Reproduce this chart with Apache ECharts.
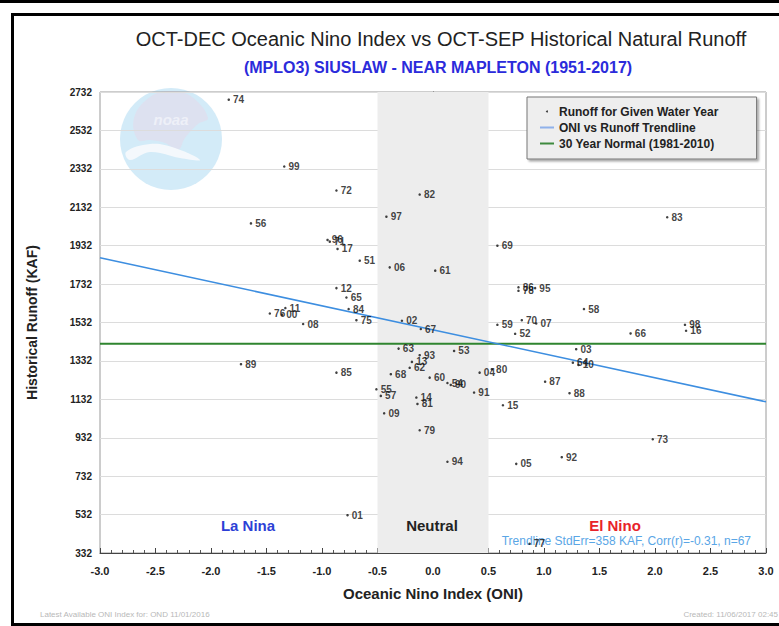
<!DOCTYPE html>
<html>
<head>
<meta charset="utf-8">
<script src="https://cdn.jsdelivr.net/npm/echarts@6/dist/echarts.min.js"></script>
<style>
  html, body { margin: 0; padding: 0; background: #ffffff; }
  #chart { width: 779px; height: 626px; }
</style>
</head>
<body>
<div id="chart"></div>
<script>
// Water years (two-digit labels) 1951-2017
const years = ['51','52','53','54','55','56','57','58','59','60',
  '61','62','63','64','65','66','67','68','69','70',
  '71','72','73','74','75','76','77','78','79','80',
  '81','82','83','84','85','86','87','88','89','90',
  '91','92','93','94','95','96','97','98','99','00',
  '01','02','03','04','05','06','07','08','09','10',
  '11','12','13','14','15','16','17'];

// OCT-DEC Oceanic Nino Index for each water year
const oni = [-0.66, 0.74, 0.19, 0.13, -0.51, -1.64, -0.47, 1.36, 0.58, -0.03,
  0.02, -0.21, -0.31, 1.26, -0.78, 1.78, -0.11, -0.38, 0.58, 0.80,
  -0.93, -0.87, 1.98, -1.84, -0.69, -1.47, 0.87, 0.77, -0.12, 0.53,
  -0.14, -0.12, 2.11, -0.76, -0.87, 0.77, 1.01, 1.23, -1.73, 0.16,
  0.37, 1.16, -0.12, 0.13, 0.92, -0.95, -0.42, 2.27, -1.34, -1.36,
  -0.77, -0.28, 1.29, 0.42, 0.75, -0.39, 0.93, -1.17, -0.44, 1.31,
  -1.33, -0.87, -0.19, -0.15, 0.63, 2.28, -0.86];

// OCT-SEP historical natural runoff (KAF)
const runoff = [1854, 1473, 1384, 1217, 1184, 2048, 1150, 1602, 1520, 1245,
  1802, 1296, 1396, 1323, 1662, 1475, 1498, 1263, 1932, 1544,
  1953, 2219, 924, 2692, 1544, 1579, 380, 1697, 971, 1289,
  1108, 2198, 2080, 1602, 1271, 1715, 1224, 1164, 1315, 1207,
  1167, 831, 1362, 807, 1711, 1962, 2083, 1520, 2344, 1572,
  529, 1541, 1393, 1271, 796, 1819, 1527, 1524, 1059, 1311,
  1607, 1711, 1327, 1141, 1101, 1489, 1915];

// Trendline end points and the 30-year normal
const trendOni = [-3.0, 3.0];
const trendRunoff = [1869, 1119];
const normalRunoff = 1422;

// Axis ranges and tick labels
const xTicks = ['-3.0','-2.5','-2.0','-1.5','-1.0','-0.5','0.0','0.5','1.0','1.5','2.0','2.5','3.0'];
const yTickStart = 332, yTickEnd = 2732, yTickStep = 200;
const neutralBand = [-0.5, 0.5];

const SANS = '"Liberation Sans", Arial, sans-serif';

const points = oni.map((v, i) => [v, runoff[i]]);
const chart = echarts.init(document.getElementById('chart'), null, { renderer: 'svg' });

chart.setOption({
  animation: false,
  backgroundColor: '#ffffff',
  title: [
    {
      text: 'OCT-DEC Oceanic Nino Index vs OCT-SEP Historical Natural Runoff',
      left: 436, top: 24, textAlign: 'center',
      textStyle: { fontFamily: SANS, fontSize: 20, fontWeight: 'normal', color: '#222' }
    },
    {
      text: '(MPLO3) SIUSLAW - NEAR MAPLETON (1951-2017)',
      left: 433, top: 54, textAlign: 'center',
      textStyle: { fontFamily: SANS, fontSize: 16, fontWeight: 'bold', color: '#2b2bdb' }
    }
  ],
  grid: {
    left: 100, right: 13, top: 92, bottom: 73,
    show: true, borderColor: '#9a9a9a', borderWidth: 1, backgroundColor: 'transparent'
  },
  legend: {
    orient: 'vertical', left: 527, top: 97,
    backgroundColor: '#eeeeee', borderColor: '#777', borderWidth: 1,
    shadowColor: 'rgba(0,0,0,0.35)', shadowOffsetX: 2, shadowOffsetY: 2, shadowBlur: 2,
    padding: [8, 38, 9, 13], itemGap: 3, itemWidth: 14, itemHeight: 2,
    textStyle: { fontFamily: SANS, fontSize: 12, fontWeight: 'bold', color: '#222', lineHeight: 13 },
    data: [
      { name: 'Runoff for Given Water Year', icon: 'circle', itemStyle: { color: '#111' } },
      { name: 'ONI vs Runoff Trendline', icon: 'rect', itemStyle: { color: '#8fb1ea' } },
      { name: '30 Year Normal (1981-2010)', icon: 'rect', itemStyle: { color: '#3e8a3e' } }
    ]
  },
  xAxis: {
    type: 'value', min: -3, max: 3, interval: 0.5,
    name: 'Oceanic Nino Index (ONI)', nameLocation: 'middle', nameGap: 33,
    nameTextStyle: { fontFamily: SANS, fontSize: 15, fontWeight: 'bold', color: '#222' },
    axisLine: { show: true, lineStyle: { color: '#444', width: 1 } },
    axisTick: { show: true, inside: true, length: 5, lineStyle: { color: '#444' } },
    minorTick: { show: true, splitNumber: 5, length: 3, lineStyle: { color: '#555' } },
    splitLine: { show: false },
    axisLabel: {
      margin: 12, fontFamily: SANS, fontSize: 11, fontWeight: 'bold', color: '#222',
      formatter: v => xTicks[Math.round((v + 3) / 0.5)]
    }
  },
  yAxis: {
    type: 'value', min: yTickStart, max: yTickEnd, interval: yTickStep,
    name: 'Historical Runoff (KAF)', nameLocation: 'middle', nameGap: 61, nameRotate: 90,
    nameTextStyle: { fontFamily: SANS, fontSize: 14, fontWeight: 'bold', color: '#222' },
    axisLine: { show: true, lineStyle: { color: '#444', width: 1 } },
    axisTick: { show: true, inside: true, length: 5, lineStyle: { color: '#444' } },
    minorTick: { show: true, splitNumber: 4, length: 3, lineStyle: { color: '#555' } },
    splitLine: { show: true, lineStyle: { color: '#dcdcdc', width: 1 } },
    axisLabel: {
      margin: 8, fontFamily: SANS, fontSize: 10, fontWeight: 'bold', color: '#222',
      formatter: v => String(Math.round(v))
    }
  },
  graphic: [
    // page frame
    { type: 'rect', shape: { x: 0, y: 0, width: 779, height: 3 }, style: { fill: '#000' }, silent: true },
    { type: 'rect', shape: { x: 11, y: 13, width: 768, height: 3 }, style: { fill: '#000' }, silent: true },
    { type: 'rect', shape: { x: 11, y: 13, width: 3, height: 613 }, style: { fill: '#000' }, silent: true },
    { type: 'rect', shape: { x: 11, y: 623, width: 768, height: 3 }, style: { fill: '#000' }, silent: true },
    // faint agency emblem watermark
    { type: 'circle', shape: { cx: 171, cy: 139, r: 51 }, style: { fill: '#d3ebf8' }, silent: true, z: -1 },
    { type: 'polygon', shape: { smooth: 0.4, points: [[134,118],[150,97],[171,91],[192,97],[208,118],[198,124],[185,138],[178,150],[165,143],[150,140],[138,140]] }, style: { fill: '#dde1f0' }, silent: true, z: -1 },
    { type: 'polygon', shape: { smooth: 0.4, points: [[126,152],[150,144],[175,148],[200,160],[180,158],[150,152],[130,160]] }, style: { fill: '#f4f8fc' }, silent: true, z: -1 },
    { type: 'text', style: { x: 171, y: 119, text: 'noaa', fill: '#eef0f8', font: 'bold italic 15px ' + SANS, align: 'center', verticalAlign: 'middle' }, silent: true, z: -1 },
    // region labels
    { type: 'text', style: { x: 248, y: 525, text: 'La Nina', fill: '#2d3fd6', font: 'bold 15px ' + SANS, align: 'center', verticalAlign: 'middle' }, z: 5 },
    { type: 'text', style: { x: 432, y: 525, text: 'Neutral', fill: '#222', font: 'bold 15px ' + SANS, align: 'center', verticalAlign: 'middle' }, z: 5 },
    { type: 'text', style: { x: 615, y: 525, text: 'El Nino', fill: '#e8232a', font: 'bold 15px ' + SANS, align: 'center', verticalAlign: 'middle' }, z: 5 },
    { type: 'text', style: { x: 751, y: 541, text: 'Trendline StdErr=358 KAF, Corr(r)=-0.31, n=67', fill: '#5aa6e6', font: '12px ' + SANS, align: 'right', verticalAlign: 'middle' }, z: 3 },
    // footnotes
    { type: 'text', style: { x: 40, y: 614, text: 'Latest Available ONI Index for: OND 11/01/2016', fill: '#b8b8b8', font: '8px ' + SANS, align: 'left', verticalAlign: 'middle' } },
    { type: 'text', style: { x: 778, y: 614, text: 'Created: 11/06/2017 02:45', fill: '#b8b8b8', font: '8px ' + SANS, align: 'right', verticalAlign: 'middle' } }
  ],
  series: [
    {
      name: '30 Year Normal (1981-2010)', type: 'line', symbol: 'none', z: 3,
      data: [[-3, normalRunoff], [3, normalRunoff]],
      lineStyle: { color: '#2f852f', width: 2 },
      markArea: {
        silent: true,
        itemStyle: { color: '#ededed' },
        data: [[{ xAxis: neutralBand[0] }, { xAxis: neutralBand[1] }]]
      }
    },
    {
      name: 'ONI vs Runoff Trendline', type: 'line', symbol: 'none', z: 3,
      data: trendOni.map((v, i) => [v, trendRunoff[i]]),
      lineStyle: { color: '#3d8ee0', width: 1.6 }
    },
    {
      name: 'Runoff for Given Water Year', type: 'scatter', z: 4,
      symbol: 'circle', symbolSize: 2.5,
      itemStyle: { color: '#111' },
      data: points,
      label: {
        show: true, position: 'right', distance: 3, offset: [0, 4],
        formatter: p => years[p.dataIndex],
        fontFamily: SANS, fontSize: 10, fontWeight: 'bold', color: '#111'
      },
      labelLayout: { hideOverlap: false }
    }
  ]
});
</script>
</body>
</html>
